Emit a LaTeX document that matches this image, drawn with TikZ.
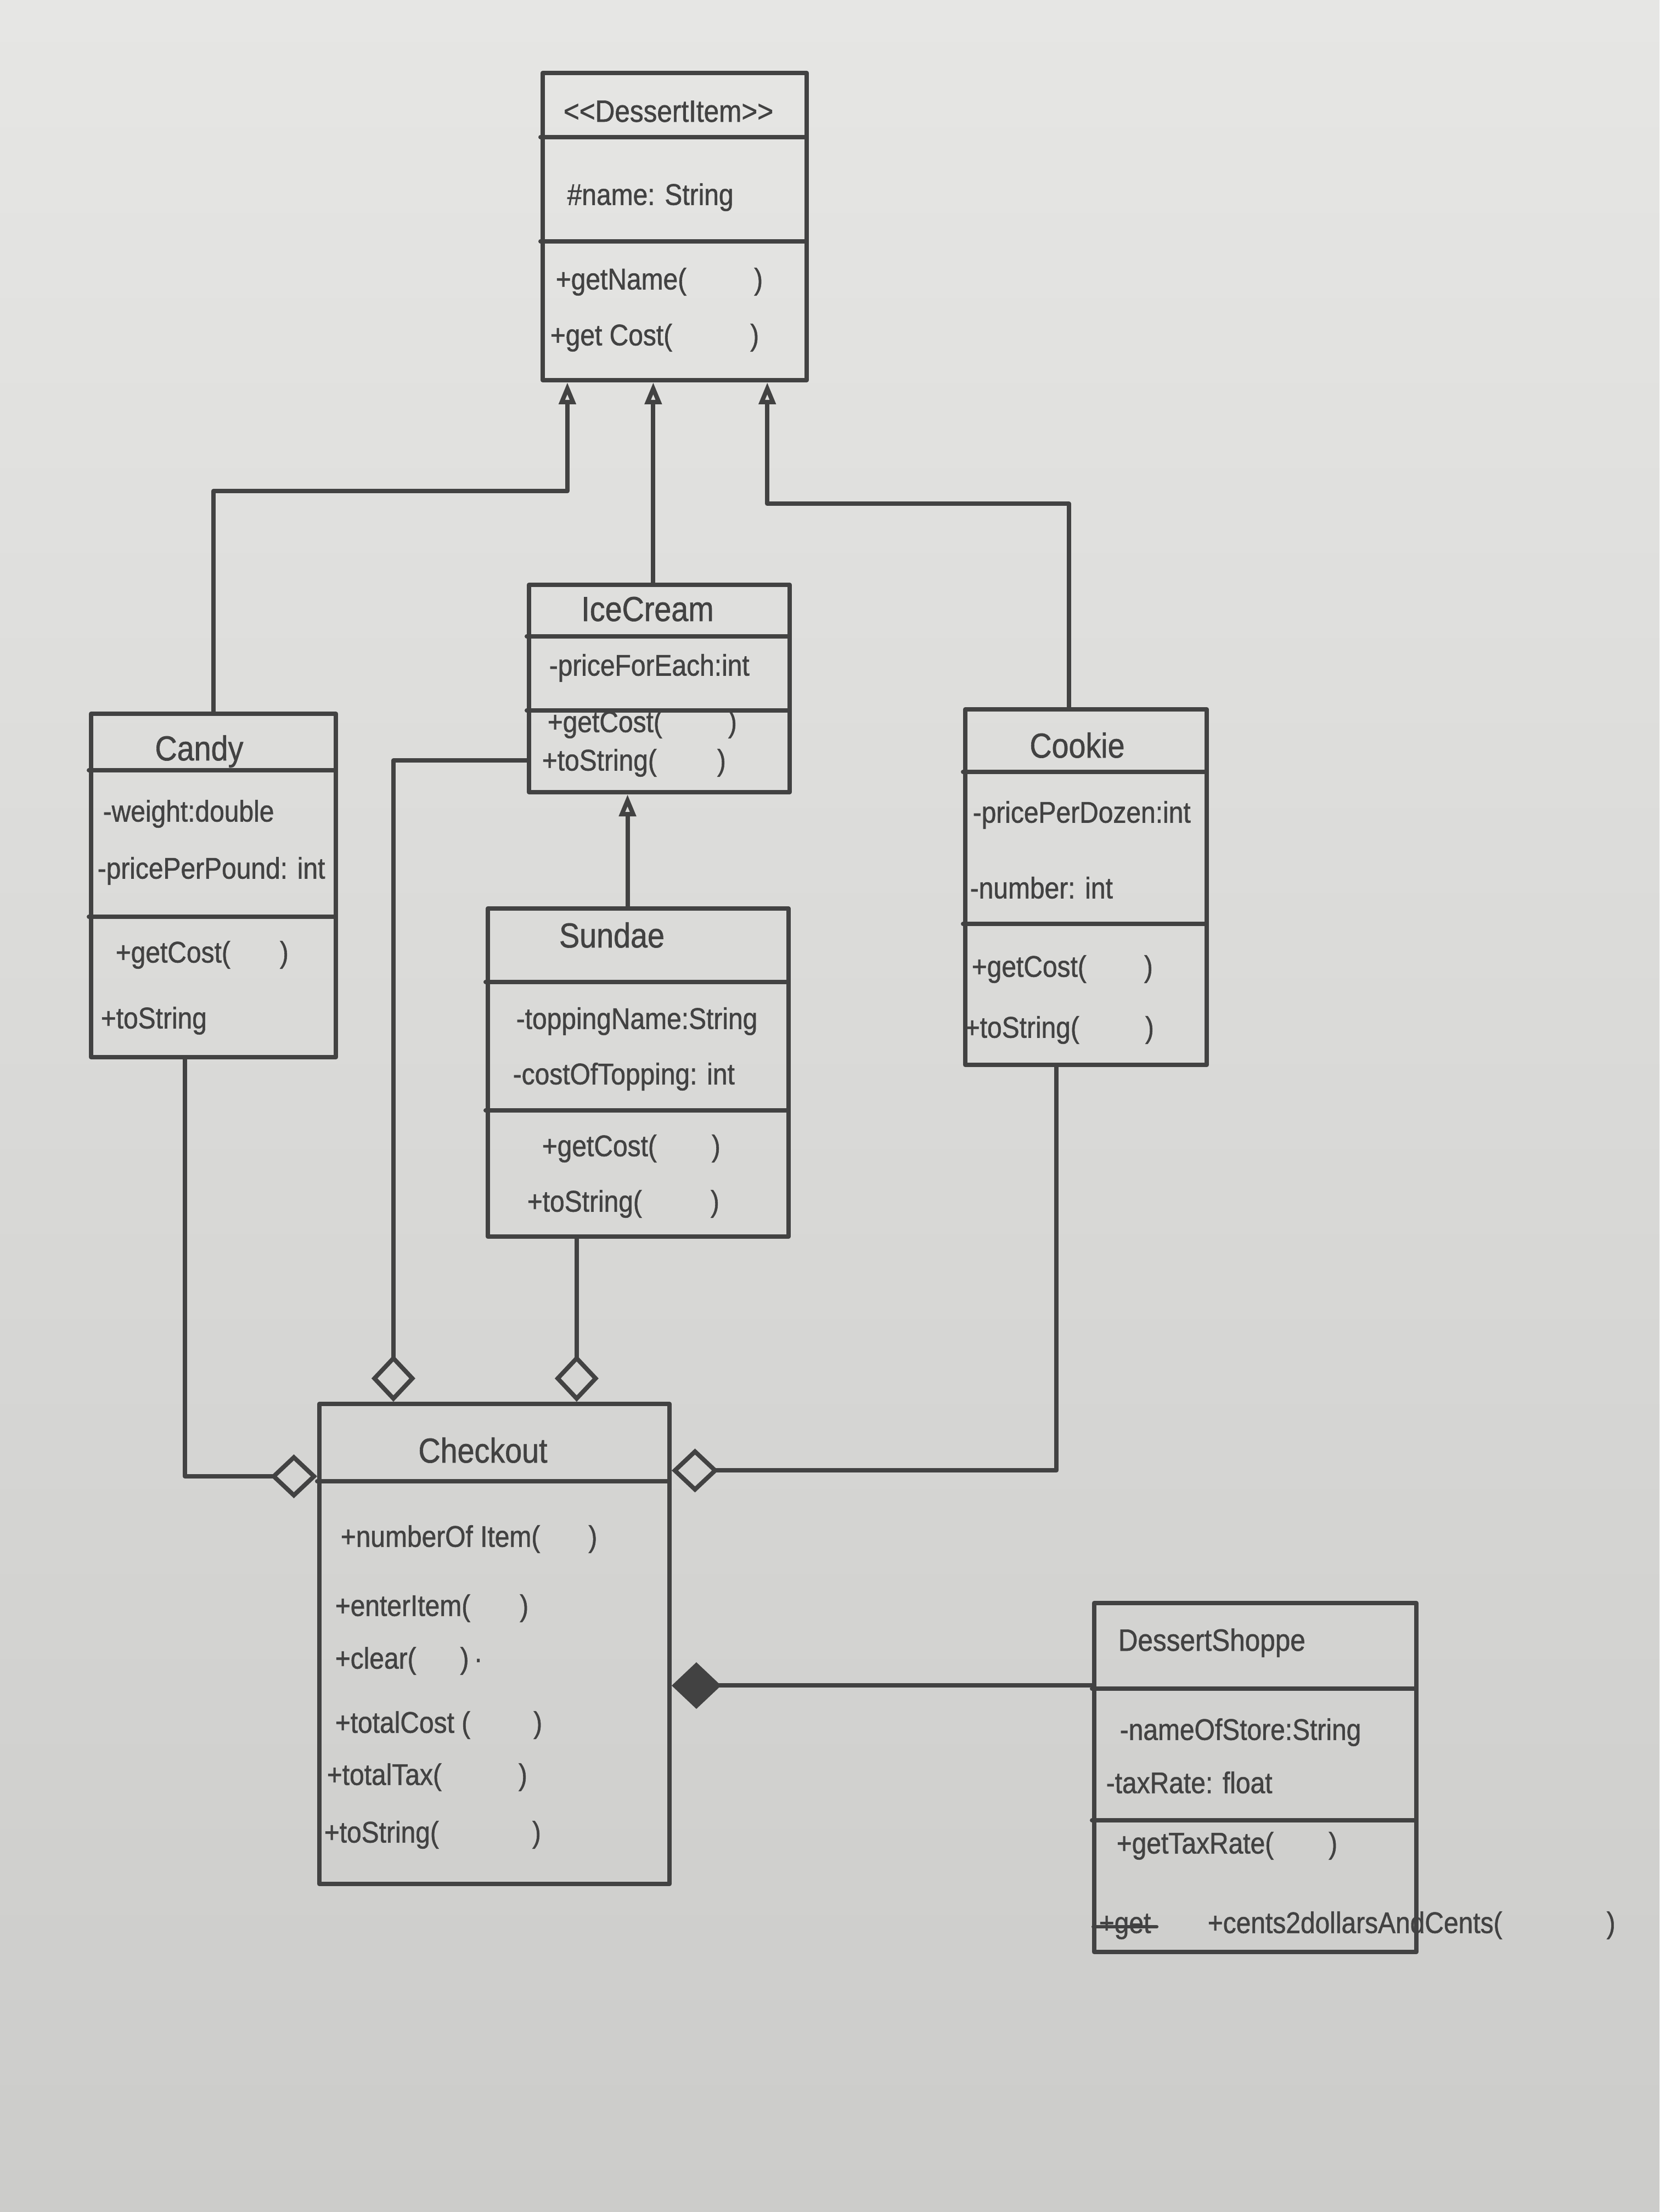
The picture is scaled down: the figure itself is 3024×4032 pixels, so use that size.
\documentclass[tikz,border=0pt]{standalone}
\usepackage{fontspec}
\setmainfont{Liberation Sans}[FakeStretch=0.88, FakeBold=1]
\usetikzlibrary{arrows.meta,calc}
\definecolor{ink}{RGB}{66,66,66}
\definecolor{papertop}{RGB}{230,230,228}
\definecolor{paperbot}{RGB}{204,204,202}
\begin{document}
\begin{tikzpicture}[x=0.1mm,y=-0.1mm,
  inkline/.style={draw=ink, line width=0.8mm, line cap=round, line join=round},
  cls/.style={inkline, rectangle, inner sep=0pt, anchor=north west},
  mem/.style={anchor=west, inner sep=0pt, text=ink, text height=3.5mm, text depth=1.2mm,
    font=\fontsize{15.5}{17}\selectfont},
  ttl/.style={anchor=center, inner sep=0pt, text=ink, text height=4mm, text depth=1.2mm,
    font=\fontsize{18}{20}\selectfont},
  gen/.style={inkline, -{Triangle[open, length=4mm, width=3mm]}},
  agg/.style={inkline, {Diamond[open, length=8.5mm, width=8mm]}-},
  comp/.style={inkline, {Diamond[length=9mm, width=8.5mm]}-}]

% paper
\useasboundingbox (0,0) rectangle (3024,4032);
\fill[top color=papertop, bottom color=paperbot] (0,0) rectangle (3024,4032);

% ---------- class boxes ----------
\node[cls, minimum width=48.1mm, minimum height=56mm] (di) at (985,129) {};
\draw[inkline] (985,250) -- (1466,250);
\draw[inkline] (985,440) -- (1466,440);
\node[ttl, font=\fontsize{16}{18}\selectfont] (diT) at (1218,208) {<{}<DessertItem>{}>};
\node[mem] (di1) at (1033,362) {\#name: String};
\node[mem] (di2) at (1012,516) {+getName(\hspace{12.3mm})};
\node[mem] (di3) at (1002,618) {+get Cost(\hspace{14.2mm})};

\node[cls, minimum width=44.6mm, minimum height=62.6mm] (candy) at (162,1297) {};
\draw[inkline] (162,1404) -- (608,1404);
\draw[inkline] (162,1671) -- (608,1671);
\node[ttl] (candyT) at (363,1372) {Candy};
\node[mem] (candy1) at (187,1486) {-weight:double};
\node[mem] (candy2) at (177,1590) {-pricePerPound: int};
\node[mem] (candy3) at (210,1743) {+getCost(\hspace{9mm})};
\node[mem] (candy4) at (183,1863) {+toString};

\node[cls, minimum width=47.5mm, minimum height=37.8mm] (ice) at (960,1062) {};
\draw[inkline] (960,1160) -- (1435,1160);
\draw[inkline] (960,1295) -- (1435,1295);
\node[ttl] (iceT) at (1180,1118) {IceCream};
\node[mem] (ice1) at (1000,1220) {-priceForEach:int};
\node[mem] (ice2) at (997,1323) {+getCost(\hspace{12mm})};
\node[mem] (ice3) at (987,1393) {+toString(\hspace{11mm})};

\node[cls, minimum width=54.8mm, minimum height=59.8mm] (sundae) at (885,1652) {};
\draw[inkline] (885,1790) -- (1433,1790);
\draw[inkline] (885,2024) -- (1433,2024);
\node[ttl] (sundaeT) at (1115,1713) {Sundae};
\node[mem] (sundae1) at (940,1864) {-toppingName:String};
\node[mem] (sundae2) at (934,1965) {-costOfTopping: int};
\node[mem] (sundae3) at (987,2096) {+getCost(\hspace{10mm})};
\node[mem] (sundae4) at (960,2197) {+toString(\hspace{12.5mm})};

\node[cls, minimum width=44mm, minimum height=64.8mm] (cookie) at (1755,1289) {};
\draw[inkline] (1755,1407) -- (2195,1407);
\draw[inkline] (1755,1684) -- (2195,1684);
\node[ttl] (cookieT) at (1963,1367) {Cookie};
\node[mem] (cookie1) at (1772,1488) {-pricePerDozen:int};
\node[mem] (cookie2) at (1767,1626) {-number: int};
\node[mem] (cookie3) at (1770,1769) {+getCost(\hspace{10.5mm})};
\node[mem] (cookie4) at (1757,1880) {+toString(\hspace{12mm})};

\node[cls, minimum width=63.8mm, minimum height=87.5mm] (chk) at (578,2555) {};
\draw[inkline] (578,2700) -- (1216,2700);
\node[ttl] (chkT) at (880,2652) {Checkout};
\node[mem] (chk1) at (620,2808) {+numberOf Item(\hspace{8.8mm})};
\node[mem] (chk2) at (610,2934) {+enterItem(\hspace{9mm})};
\node[mem] (chk3) at (610,3030) {+clear(\hspace{8mm})\,·};
\node[mem] (chk4) at (610,3147) {+totalCost (\hspace{11.5mm})};
\node[mem] (chk5) at (595,3242) {+totalTax(\hspace{14mm})};
\node[mem] (chk6) at (590,3347) {+toString(\hspace{17mm})};

\node[cls, minimum width=58.7mm, minimum height=63.6mm] (shop) at (1990,2918) {};
\draw[inkline] (1990,3078) -- (2577,3078);
\draw[inkline] (1990,3318) -- (2577,3318);
\node[ttl, anchor=west, font=\fontsize{16}{18}\selectfont] (shopT) at (2037,2995) {DessertShoppe};
\node[mem] (shop1) at (2040,3160) {-nameOfStore:String};
\node[mem] (shop2) at (2015,3257) {-taxRate: float};
\node[mem] (shop3) at (2034,3367) {+getTaxRate(\hspace{10mm})};
\node[mem] (strk) at (2002,3512) {+get};
\draw[inkline, line width=0.6mm] ([xshift=-1mm]strk.west) -- ([xshift=1mm]strk.east);
\node[mem] (shop4) at (2200,3512) {+cents2dollarsAndCents(\hspace{19mm})};

% ---------- connection points ----------
\coordinate (diA) at ($(di.south west)!0.10!(di.south east)$);
\coordinate (diB) at ($(di.south west)!0.42!(di.south east)$);
\coordinate (diC) at ($(di.south west)!0.845!(di.south east)$);
\coordinate (jc) at (diA |- 0,895);
\coordinate (jk) at (diC |- 0,918);
\coordinate (ckT) at ($(cookie.north west)!0.43!(cookie.north east)$);
\coordinate (sdT) at ($(sundae.north west)!0.465!(sundae.north east)$);
\coordinate (sdB) at ($(sundae.south west)!0.30!(sundae.south east)$);
\coordinate (cdB) at ($(candy.south west)!0.385!(candy.south east)$);
\coordinate (ckB) at ($(cookie.south west)!0.38!(cookie.south east)$);
\coordinate (iceL) at ($(ice.north west)!0.84!(ice.south west)$);
\coordinate (chkA) at ($(chk.north west)!0.215!(chk.north east)$);
\coordinate (chkB) at ($(chk.north west)!0.732!(chk.north east)$);
\coordinate (chkL) at ($(chk.north west)!0.154!(chk.south west)$);
\coordinate (chkR) at ($(chk.north east)!0.142!(chk.south east)$);
\coordinate (chkC) at ($(chk.north east)!0.586!(chk.south east)$);

% ---------- generalisation ----------
\draw[gen] (candy.north) |- (jc) -- (diA);
\draw[gen] (ice.north -| diB) -- (diB);
\draw[gen] (ckT) |- (jk) -- (diC);
\draw[gen] (sdT) -- (sdT |- ice.south);

% ---------- aggregation ----------
\draw[agg] (chkL) -| (cdB);
\draw[agg] (chkA) |- (iceL);
\draw[agg] (chkB) -- (chkB |- sundae.south);
\draw[agg] (chkR) -| (ckB);

% ---------- composition ----------
\draw[comp] (chkC) -- (chkC -| shop.west);
\end{tikzpicture}
\end{document}
